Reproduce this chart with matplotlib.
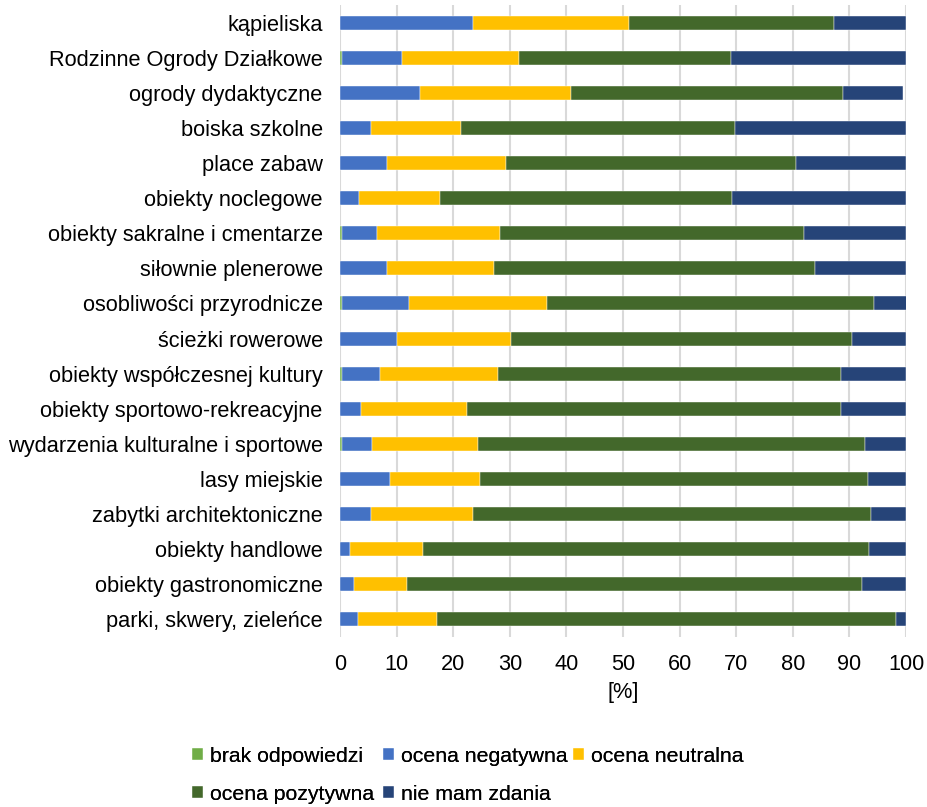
import matplotlib
matplotlib.use("Agg")
import matplotlib.pyplot as plt
import numpy as np

plt.rcParams['font.family'] = ['Liberation Sans', 'DejaVu Sans']

categories = [
    "kąpieliska",
    "Rodzinne Ogrody Działkowe",
    "ogrody dydaktyczne",
    "boiska szkolne",
    "place zabaw",
    "obiekty noclegowe",
    "obiekty sakralne i cmentarze",
    "siłownie plenerowe",
    "osobliwości przyrodnicze",
    "ścieżki rowerowe",
    "obiekty współczesnej kultury",
    "obiekty sportowo-rekreacyjne",
    "wydarzenia kulturalne i sportowe",
    "lasy miejskie",
    "zabytki architektoniczne",
    "obiekty handlowe",
    "obiekty gastronomiczne",
    "parki, skwery, zieleńce",
]

brak_odpowiedzi = [0.0, 0.4, 0.0, 0.0, 0.0, 0.0, 0.4, 0.0, 0.4,
                   0.0, 0.4, 0.0, 0.4, 0.0, 0.0, 0.0, 0.0, 0.0]
ocena_negatywna = [23.5, 10.6, 14.1, 5.5, 8.3, 3.4, 6.2, 8.3, 11.8,
                   10.1, 6.7, 3.7, 5.3, 8.8, 5.5, 1.8, 2.5, 3.2]
ocena_neutralna = [27.6, 20.6, 26.8, 15.9, 21.0, 14.2, 21.7, 18.9, 24.3,
                   20.1, 20.8, 18.8, 18.7, 15.9, 18.0, 12.8, 9.3, 13.9]
ocena_pozytywna = [36.1, 37.4, 47.9, 48.3, 51.2, 51.7, 53.7, 56.8, 57.8,
                   60.3, 60.7, 66.1, 68.4, 68.5, 70.3, 78.9, 80.5, 81.1]
nie_mam_zdania = [12.8, 31.0, 10.7, 30.3, 19.5, 30.7, 18.0, 16.0, 5.9,
                  9.5, 11.4, 11.4, 7.2, 6.8, 6.2, 6.5, 7.7, 1.8]

series = [
    ("brak odpowiedzi", brak_odpowiedzi, "#70AD47"),
    ("ocena negatywna", ocena_negatywna, "#4472C4"),
    ("ocena neutralna", ocena_neutralna, "#FFC000"),
    ("ocena pozytywna", ocena_pozytywna, "#43682B"),
    ("nie mam zdania", nie_mam_zdania, "#264478"),
]

FS = 15.7
LFS = 15.3
W, H = 928, 807

fig = plt.figure(figsize=(W / 100, H / 100), dpi=100)
ax = fig.add_axes([340 / W, 1 - 637 / H, (906 - 340) / W, (637 - 5) / H])

y = np.arange(len(categories))
left = np.zeros(len(categories))
handles = {}
for name, vals, col in series:
    v = np.array(vals)
    b = ax.barh(y, v, left=left, height=0.4, color=col, label=name,
                edgecolor='white', linewidth=0.3, zorder=3)
    handles[name] = b
    left += v

ax.set_ylim(len(categories) - 0.5, -0.5)
ax.set_xlim(0, 100)
ax.set_xticks(np.arange(0, 101, 10))
ax.set_yticks(y)
ax.set_yticklabels(categories)
ax.tick_params(axis='both', length=0, labelsize=FS, colors='black')
ax.tick_params(axis='x', pad=12)
ax.tick_params(axis='y', pad=12.5)
ax.grid(axis='x', color='#D9D9D9', linewidth=1.5, zorder=0)
for s in ax.spines.values():
    s.set_visible(False)
ax.set_xlabel("[%]", fontsize=FS, labelpad=5)

# legend: three columns placed like the original (row-major order)
columns = [
    (192, ["brak odpowiedzi", "ocena pozytywna"]),
    (383, ["ocena negatywna", "nie mam zdania"]),
    (573, ["ocena neutralna"]),
]
for xpix, names in columns:
    leg = fig.legend([handles[n] for n in names], names,
                     loc='upper left', bbox_to_anchor=(xpix / W, 1 - 746.5 / H),
                     frameon=False, fontsize=LFS, handlelength=0.5,
                     handleheight=0.5, handletextpad=0.35, borderpad=0,
                     borderaxespad=0, labelspacing=0.9)
    fig.add_artist(leg)

fig.savefig("out.png", dpi=100)
